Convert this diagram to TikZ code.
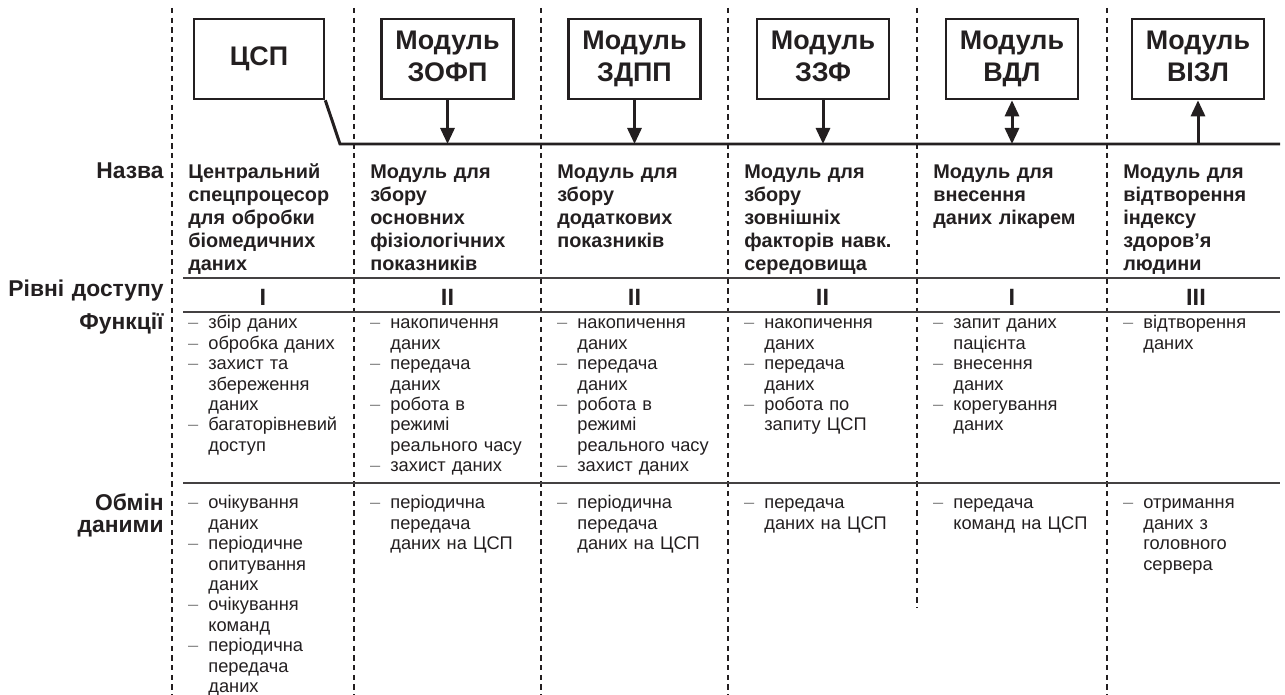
\documentclass[tikz,border=0pt]{standalone}
\usepackage{fontspec}
\setmainfont{Liberation Sans}
\usepackage{xcolor}
\usetikzlibrary{arrows.meta}
\definecolor{ink}{HTML}{231F20}
\definecolor{dashgray}{HTML}{8A8A8A}
\newcommand\dsh{\leavevmode\llap{\textcolor{dashgray}{–}\hspace{0.2cm}}}
\tikzset{
  modbox/.style={draw=ink, line width=1.5pt, minimum width=2.64cm, minimum height=1.6cm,
    inner sep=0pt, align=center, text=ink, font=\fontsize{15.3}{18.3}\selectfont\bfseries},
  twoline/.style={execute at begin node={\rule{0pt}{15pt}}, execute at end node={\vphantom{Д}}},
  colsep/.style={ink, line width=0.6pt, dash pattern=on 3pt off 2.5pt},
  rowline/.style={ink!85, line width=1.1pt},
  busline/.style={ink, line width=1.7pt},
  busarr/.style={ink, line width=1.7pt, -{Triangle[length=0.32cm, width=0.28cm]}},
  busarr2/.style={ink, line width=1.7pt, {Triangle[length=0.32cm, width=0.28cm]}-{Triangle[length=0.32cm, width=0.28cm]}},
  rowlabel/.style={anchor=base east, inner sep=0pt, text width=3.2cm, align=right, text=ink,
    font=\fontsize{13}{12.5}\selectfont\bfseries},
  nazva/.style={anchor=base west, inner sep=0pt, text width=3.5cm, align=left, text=ink,
    font=\fontsize{11.3}{13}\selectfont\bfseries},
  level/.style={anchor=base, inner sep=0pt, text=ink, font=\fontsize{13.4}{16}\selectfont\bfseries},
  spysok/.style={anchor=base west, inner sep=0pt, text width=3.2cm, align=left, text=ink,
    font=\fontsize{10.4}{11.6}\selectfont}
}
\begin{document}
\begin{tikzpicture}[x=0.02cm, y=-0.02cm]
  \useasboundingbox (0,0) rectangle (1285,695);
  % роздільники колонок
  \draw[colsep] (172,8) -- (172,695);
  \draw[colsep] (354,8) -- (354,695);
  \draw[colsep] (541,8) -- (541,695);
  \draw[colsep] (728,8) -- (728,695);
  \draw[colsep] (917,8) -- (917,608);
  \draw[colsep] (1107,8) -- (1107,695);
  % модулі
  \node[modbox, minimum width=2.6cm] (csp) at (259,59) {ЦСП};
  \node[modbox, twoline] (zofp) at (447.5,59) {Модуль\\ЗОФП};
  \node[modbox, twoline] (zdpp) at (634.5,59) {Модуль\\ЗДПП};
  \node[modbox, twoline] (zzf) at (823,59) {Модуль\\ЗЗФ};
  \node[modbox, twoline] (vdl) at (1012,59) {Модуль\\ВДЛ};
  \node[modbox, twoline] (vizl) at (1198,59) {Модуль\\ВІЗЛ};
  % шина
  \coordinate (busL) at (340,144);
  \coordinate (busR) at (1280,144);
  \draw[busline] (csp.south east) -- (busL) -- (busR);
  \draw[busarr] (zofp.south) -- (zofp.south |- busL);
  \draw[busarr] (zdpp.south) -- (zdpp.south |- busL);
  \draw[busarr] (zzf.south) -- (zzf.south |- busL);
  \draw[busarr2] (vdl.south) -- (vdl.south |- busL);
  \draw[busarr] (vizl.south |- busL) -- (vizl.south);
  % рядки таблиці
  \draw[rowline] (183,278) -- (1280,278);
  \draw[rowline] (183,312) -- (1280,312);
  \draw[rowline] (183,483) -- (1280,483);
  \node[rowlabel] (lnazva) at (164,179) {Назва};
  \node[rowlabel] (lriven) at (164,297) {Рівні доступу};
  \node[rowlabel] (lfunk) at (164,330) {Функції};
  \node[rowlabel] (lobmin) at (164,511) {Обмін\\даними};
  % назви
  \node[nazva] (n1) at (188,179) {Центральний\\спецпроцесор\\для обробки\\біомедичних\\даних};
  \node[nazva] (n2) at (370,179) {Модуль для\\збору\\основних\\фізіологічних\\показників};
  \node[nazva] (n3) at (557,179) {Модуль для\\збору\\додаткових\\показників};
  \node[nazva] (n4) at (744,179) {Модуль для\\збору\\зовнішніх\\факторів навк.\\середовища};
  \node[nazva] (n5) at (933,179) {Модуль для\\внесення\\даних лікарем};
  \node[nazva] (n6) at (1123,179) {Модуль для\\відтворення\\індексу\\здоров’я\\людини};
  % рівні доступу
  \node[level] (r1) at (263,306) {I};
  \node[level] (r2) at (447.5,306) {II};
  \node[level] (r3) at (634.5,306) {II};
  \node[level] (r4) at (822.5,306) {II};
  \node[level] (r5) at (1012,306) {I};
  \node[level] (r6) at (1196,306) {III};
  % функції
  \node[spysok] (f1) at (208,329) {\dsh збір даних\\\dsh обробка даних\\\dsh захист та\\збереження\\даних\\\dsh багаторівневий\\доступ};
  \node[spysok] (f2) at (390,329) {\dsh накопичення\\даних\\\dsh передача\\даних\\\dsh робота в\\режимі\\реального часу\\\dsh захист даних};
  \node[spysok] (f3) at (577,329) {\dsh накопичення\\даних\\\dsh передача\\даних\\\dsh робота в\\режимі\\реального часу\\\dsh захист даних};
  \node[spysok] (f4) at (764,329) {\dsh накопичення\\даних\\\dsh передача\\даних\\\dsh робота по\\запиту ЦСП};
  \node[spysok] (f5) at (953,329) {\dsh запит даних\\пацієнта\\\dsh внесення\\даних\\\dsh корегування\\даних};
  \node[spysok] (f6) at (1143,329) {\dsh відтворення\\даних};
  % обмін даними
  \node[spysok] (o1) at (208,509) {\dsh очікування\\даних\\\dsh періодичне\\опитування\\даних\\\dsh очікування\\команд\\\dsh періодична\\передача\\даних};
  \node[spysok] (o2) at (390,509) {\dsh періодична\\передача\\даних на ЦСП};
  \node[spysok] (o3) at (577,509) {\dsh періодична\\передача\\даних на ЦСП};
  \node[spysok] (o4) at (764,509) {\dsh передача\\даних на ЦСП};
  \node[spysok] (o5) at (953,509) {\dsh передача\\команд на ЦСП};
  \node[spysok] (o6) at (1143,509) {\dsh отримання\\даних з\\головного\\сервера};
\end{tikzpicture}
\end{document}
